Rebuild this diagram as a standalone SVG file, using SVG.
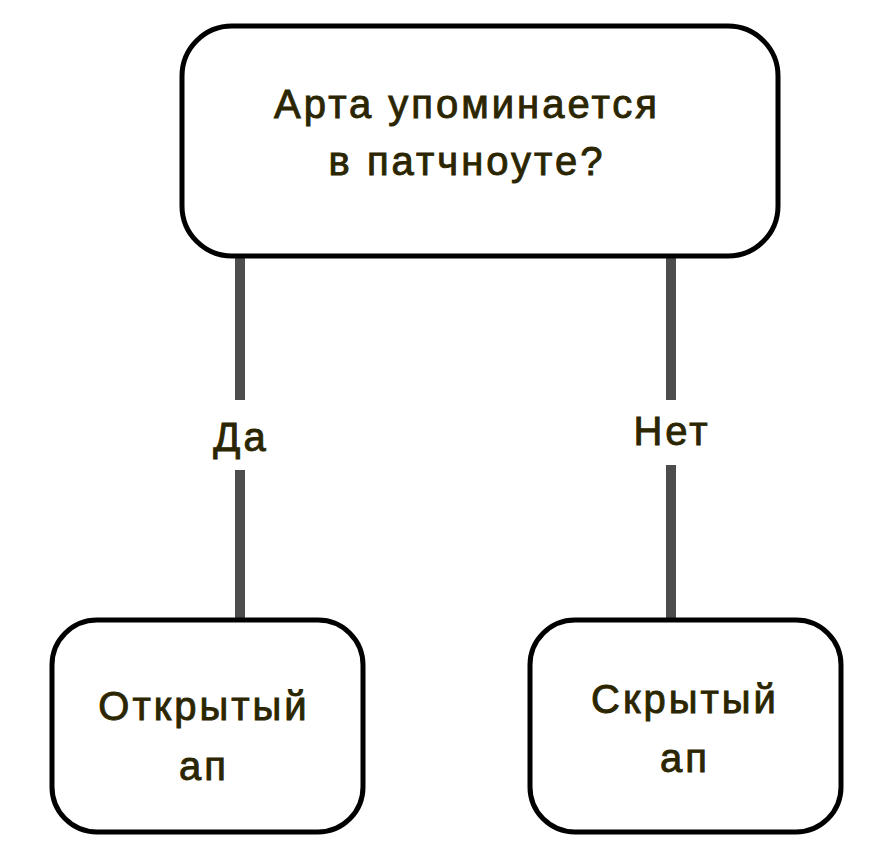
<svg xmlns="http://www.w3.org/2000/svg" width="894" height="855" viewBox="0 0 894 855">
<style>
.box{fill:#fff;stroke:#000;stroke-width:5}
.t{font-family:"Liberation Sans",Arial,sans-serif;font-size:40px;fill:#2b2600;stroke:#2b2600;stroke-width:0.9;letter-spacing:3px;text-anchor:middle}
.c{stroke:#4d4d4d;stroke-width:10;fill:none}
</style>
<rect width="894" height="855" fill="#fff"/>
<g id="connectors">
<line class="c" x1="240" y1="258" x2="240" y2="620"/>
<line class="c" x1="671" y1="258" x2="671" y2="620"/>
<rect x="200" y="400" width="80" height="70" fill="#fff"/>
<rect x="625" y="400" width="95" height="65" fill="#fff"/>
<text class="t" x="241" y="451">Да</text>
<text class="t" x="672" y="445">Нет</text>
</g>
<g id="root">
<rect class="box" x="182" y="26" width="596" height="230" rx="50"/>
<text class="t" x="467" y="118">Арта упоминается</text>
<text class="t" x="467" y="175">в патчноуте?</text>
</g>
<g id="yes">
<rect class="box" x="52" y="620" width="311" height="212" rx="45"/>
<text class="t" x="204" y="720">Открытый</text>
<text class="t" x="204" y="780">ап</text>
</g>
<g id="no">
<rect class="box" x="530" y="620" width="311" height="212" rx="45"/>
<text class="t" x="685" y="713">Скрытый</text>
<text class="t" x="685" y="772">ап</text>
</g>
</svg>
